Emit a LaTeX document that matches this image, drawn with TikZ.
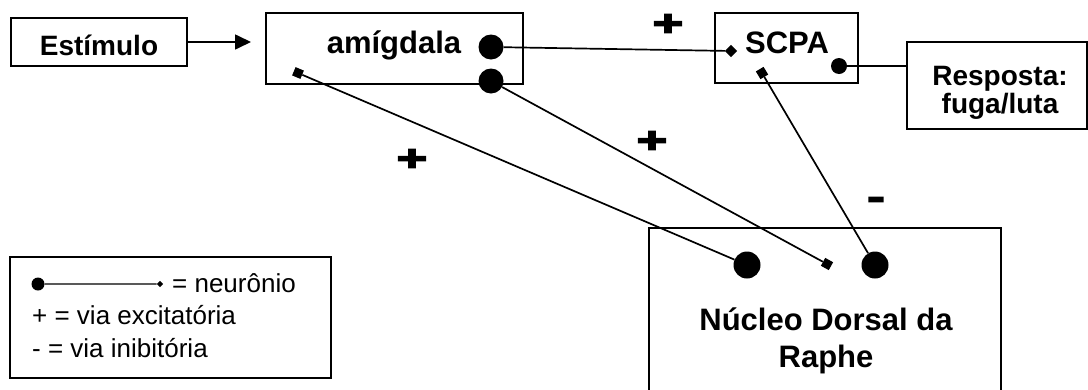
\documentclass[tikz,border=0pt]{standalone}
\usepackage{fontspec}
\setmainfont{Liberation Sans}
\newfontfamily\plusfont[FakeBold=4]{Liberation Sans Bold}
\usetikzlibrary{arrows.meta}
\tikzset{
  box/.style={draw, line width=1.8pt, inner sep=0pt},
  dot/.style={circle, fill, inner sep=0pt, minimum size=#1},
  sq/.style={rectangle, fill, inner sep=0pt, minimum size=9pt, rotate=#1},
  link/.style={line width=1.7pt},
  big/.style={font=\fontsize{31}{38}\selectfont\bfseries, inner sep=0pt},
  mid/.style={font=\fontsize{28}{28}\selectfont\bfseries, inner sep=0pt},
  leg/.style={font=\fontsize{26}{30}\selectfont, inner sep=0pt, anchor=base west},
  sign/.style={font=\fontsize{36}{36}\plusfont, inner sep=0pt, xscale=1.45}
}
\begin{document}
\begin{tikzpicture}[x=1pt,y=-1pt]
\useasboundingbox (0,0) rectangle (1088,389);
\clip (0,0) rectangle (1088,389);
\fill[white] (0,0) rectangle (1088,389);
% boxes
\node[box, minimum width=176pt, minimum height=48pt] (est) at (99,42) {};
\node[box, minimum width=257pt, minimum height=71pt] (amy) at (394.5,48.5) {};
\node[box, minimum width=143pt, minimum height=70pt] (scpa) at (786.5,48) {};
\node[box, minimum width=180pt, minimum height=87pt] (resp) at (997,85.5) {};
\node[box, minimum width=352pt, minimum height=167pt] (ndr) at (825,311.5) {};
\node[box, minimum width=321pt, minimum height=121pt] (legend) at (170.5,317.5) {};
% texts
\node[mid, anchor=base] (testim) at (99,55) {Estímulo};
\node[big, anchor=base] (tamy) at (394,53.5) {amígdala};
\node[big, anchor=base] (tscpa) at (787,53) {SCPA};
\node[mid, anchor=base] (tresp1) at (1000,85) {Resposta:};
\node[mid, anchor=base] (tresp2) at (1000,113) {fuga/luta};
\node[big, anchor=base] (tndr1) at (826,330) {Núcleo Dorsal da};
\node[big, anchor=base] (tndr2) at (826,367) {Raphe};
% arrow
\coordinate (arrEnd) at (251,42);
\draw[link, -{Triangle[length=16pt,width=15pt]}] (est.east) -- (arrEnd);
% terminals
\node[dot=25pt] (a1) at (491,47) {};
\node[dot=25pt] (a2) at (491,81) {};
\node[sq=-23] (a3) at (298,73) {};
\node[sq=45, minimum size=8.5pt] (sd) at (731,51) {};
\node[dot=16pt] (s2) at (839,66) {};
\node[sq=-59] (s3) at (762,73) {};
\node[dot=27pt] (n1) at (747,265) {};
\node[sq=-29] (n2) at (827,264) {};
\node[dot=27pt] (n3) at (875,265) {};
% connectors
\draw[link] (a1) -- (sd);
\draw[link] (s2) -- (s2 -| resp.west);
\draw[link] (a3) -- (n1);
\draw[link] (a2) -- (n2);
\draw[link] (s3) -- (n3);
% signs
\node[sign] (p1) at (668,25) {+};
\node[sign] (p2) at (412,160) {+};
\node[sign] (p3) at (652,142) {+};
\node[sign] (m1) at (876,203) {-};
% legend
\node[dot=13pt] (ldot) at (38,284) {};
\node[sq=45, minimum size=4.5pt] (ldia) at (160,284) {};
\draw[line width=1.2pt] (ldot) -- (ldia);
\node[leg] (l1) at (172,292) {= neurônio};
\node[leg] (l2) at (32,324) {+ = via excitatória};
\node[leg] (l3) at (32,357) {- = via inibitória};
\end{tikzpicture}
\end{document}
